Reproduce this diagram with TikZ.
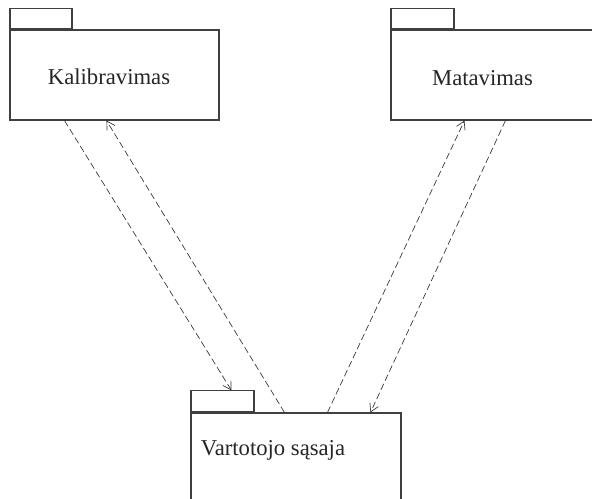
\documentclass[tikz,border=0pt]{standalone}
\usepackage{fontspec}
\setmainfont{Liberation Serif}
\usetikzlibrary{arrows.meta}

\def\px{0.75pt}

\begin{document}
\begin{tikzpicture}[x=0.75pt, y=-0.75pt, >={Straight Barb[length=6pt, width=7pt]},
    pkg/.style={draw=black!75, line width=0.8pt, fill=white, inner sep=0pt,
                font=\fontsize{17}{20}\selectfont, text=black!85},
    pkgtab/.style={pkg, anchor=south west},
    dep/.style={->, black!80, line width=0.5pt, dash pattern=on 5pt off 2.5pt}]
    \useasboundingbox (0,0) rectangle (592,499);
    \clip (0,0) rectangle (592,499);

    % package bodies
    \node[pkg, minimum width=209*\px, minimum height=90*\px,
          label={[xshift=-5.5*\px, yshift=-2*\px, font=\fontsize{17}{20}\selectfont, text=black!85]center:Kalibravimas}]
          (kal) at (114.5,75) {};
    \node[pkg, minimum width=220*\px, minimum height=90*\px,
          label={[xshift=-18.5*\px, yshift=-3*\px, font=\fontsize{17}{20}\selectfont, text=black!85]center:Matavimas}]
          (mat) at (501,75) {};
    \node[pkg, minimum width=210*\px, minimum height=110*\px,
          label={[xshift=-23*\px, yshift=18*\px, font=\fontsize{17}{20}\selectfont, text=black!85]center:Vartotojo sąsaja}]
          (vart) at (296,468) {};

    % tabs
    \node[pkgtab, minimum width=62*\px, minimum height=20*\px] (kaltab) at (kal.north west) {};
    \node[pkgtab, minimum width=63*\px, minimum height=20*\px] (mattab) at (mat.north west) {};
    \node[pkgtab, minimum width=63*\px, minimum height=21*\px] (varttab) at (vart.north west) {};

    % dependencies
    \draw[dep] ([xshift=55*\px]kal.south west) -- ([xshift=41*\px]varttab.north west);
    \draw[dep] ([xshift=94*\px]vart.north west) -- ([xshift=97*\px]kal.south west);
    \draw[dep] ([xshift=137*\px]vart.north west) -- ([xshift=74*\px]mat.south west);
    \draw[dep] ([xshift=115*\px]mat.south west) -- ([xshift=180*\px]vart.north west);
\end{tikzpicture}
\end{document}
